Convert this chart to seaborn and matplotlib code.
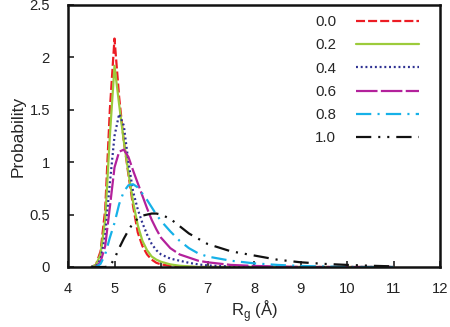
import matplotlib
matplotlib.use("Agg")
import matplotlib.pyplot as plt
import seaborn as sns
import pandas as pd

rg = [4.5, 4.6, 4.7, 4.8, 4.9, 5.0, 5.1, 5.2, 5.3, 5.4, 5.5, 5.6, 5.7, 5.8, 5.9,
      6.0, 6.2, 6.4, 6.6, 6.8, 7.0, 7.5, 8.0, 8.5, 9.0, 9.5, 10.0, 10.5, 11.0]

p00 = [0.0, 0.02, 0.15, 0.55, 1.5, 2.18, 1.62, 1.2, 0.88, 0.58, 0.33, 0.2, 0.12, 0.07, 0.04,
       0.025, 0.01, 0.005, 0.0, 0.0, 0.0, 0.0, 0.0, 0.0, 0.0, 0.0, 0.0, 0.0, 0.0]
p02 = [0.0, 0.02, 0.12, 0.45, 1.25, 1.92, 1.55, 1.2, 0.9, 0.62, 0.4, 0.25, 0.16, 0.1, 0.07,
       0.05, 0.025, 0.012, 0.006, 0.0, 0.0, 0.0, 0.0, 0.0, 0.0, 0.0, 0.0, 0.0, 0.0]
p04 = [0.0, 0.01, 0.07, 0.3, 0.8, 1.25, 1.46, 1.35, 1.0, 0.72, 0.55, 0.42, 0.31, 0.22, 0.16,
       0.12, 0.08, 0.06, 0.04, 0.025, 0.015, 0.005, 0.0, 0.0, 0.0, 0.0, 0.0, 0.0, 0.0]
p06 = [0.0, 0.0, 0.05, 0.2, 0.57, 0.95, 1.1, 1.12, 1.05, 0.92, 0.8, 0.68, 0.56, 0.45, 0.36,
       0.28, 0.18, 0.12, 0.09, 0.06, 0.045, 0.02, 0.01, 0.005, 0.0, 0.0, 0.0, 0.0, 0.0]
p08 = [0.0, 0.0, 0.03, 0.12, 0.28, 0.42, 0.6, 0.72, 0.78, 0.79, 0.76, 0.7, 0.64, 0.57, 0.5,
       0.44, 0.34, 0.25, 0.18, 0.13, 0.1, 0.06, 0.035, 0.02, 0.01, 0.005, 0.0, 0.0, 0.0]
p10 = [0.0, 0.0, 0.0, 0.0, 0.01, 0.08, 0.18, 0.27, 0.35, 0.42, 0.46, 0.49, 0.5, 0.51, 0.51,
       0.5, 0.46, 0.39, 0.32, 0.27, 0.22, 0.15, 0.11, 0.07, 0.045, 0.03, 0.02, 0.012, 0.006]

labels = ["0.0", "0.2", "0.4", "0.6", "0.8", "1.0"]
xticks = [4, 5, 6, 7, 8, 9, 10, 11, 12]
yticks = [0, 0.5, 1, 1.5, 2, 2.5]
ytick_labels = ["0", "0.5", "1", "1.5", "2", "2.5"]

series = [p00, p02, p04, p06, p08, p10]
colors = ["#ec1c24", "#9ccb3b", "#2e3192", "#b3219b", "#16b1e8", "#111111"]
styles = [(0, (6.5, 2.2)), "-", (0, (1.4, 2.0)), (0, (15.5, 2.4)),
          (0, (11, 4.5, 1.5, 4.5)), (0, (11, 5, 1.5, 5, 1.5, 5))]

sns.set_style("ticks")
plt.rcParams["font.family"] = ["Liberation Sans", "DejaVu Sans"]
plt.rcParams["lines.scale_dashes"] = False

fig = plt.figure(figsize=(4.5, 3.27), dpi=100)
ax = fig.add_axes([68 / 450, 60 / 327, 372 / 450, 262 / 327])

for lab, ys, c, ls in zip(labels, series, colors, styles):
    df = pd.DataFrame({"Rg": rg, "P": ys})
    sns.lineplot(data=df, x="Rg", y="P", ax=ax, color=c, linestyle=ls,
                 linewidth=1.6, label=lab)

ax.set_xlim(4, 12)
ax.set_ylim(0, 2.5)
ax.set_xticks(xticks)
ax.set_xticklabels([str(t) for t in xticks])
ax.set_yticks(yticks)
ax.set_yticklabels(ytick_labels)
ax.tick_params(axis="both", direction="in", length=4, width=1.2, labelsize=10.6,
               colors="#222222", top=False, right=False)
ax.tick_params(axis="x", pad=11)
ax.tick_params(axis="y", pad=13)
for s in ax.spines.values():
    s.set_linewidth(1.8)
    s.set_color("#111111")
ax.set_xlabel(r"R$_\mathregular{g}$ (Å)", fontsize=12, labelpad=1)
ax.set_ylabel("Probability", fontsize=12.5, labelpad=3)

leg = ax.legend(loc="upper left", bbox_to_anchor=(0.664, 0.962), frameon=False,
                markerfirst=False, fontsize=10.8, handlelength=4.2,
                handletextpad=1.3, labelspacing=0.62, borderpad=0, borderaxespad=0)

fig.savefig("out.png", dpi=100)
